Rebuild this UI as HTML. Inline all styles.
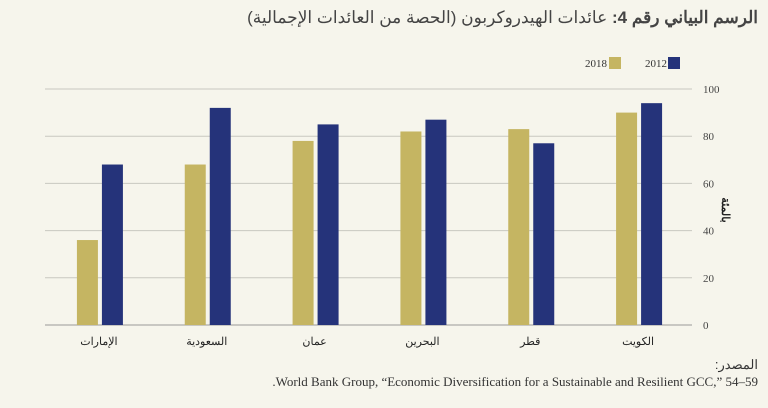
<!DOCTYPE html>
<html lang="ar"><head><meta charset="utf-8">
<style>
body{margin:0;width:768px;height:408px;background:#f6f5ec;overflow:hidden;font-family:"Liberation Serif","Noto Sans CJK SC",serif;}
.t{position:absolute;white-space:nowrap;color:#333;}
</style></head>
<body>
<div class="t" dir="rtl" style="right:10px;top:8px;font-size:17px;font-family:'Liberation Sans','Noto Sans CJK SC',sans-serif;color:#444;"><b>الرسم البياني رقم 4:</b> عائدات الهيدروكربون (الحصة من العائدات الإجمالية)</div>
<svg width="768" height="408" style="position:absolute;left:0;top:0" id="chart"></svg>
<div class="t" dir="rtl" style="right:10px;top:357px;font-size:13px;font-family:'Liberation Sans','Noto Sans CJK SC',sans-serif;">المصدر:</div>
<div class="t" style="right:10px;top:374px;font-size:13px;">.World Bank Group, “Economic Diversification for a Sustainable and Resilient GCC,” 54–59</div>
<script>
const categories=["الإمارات","السعودية","عمان","البحرين","قطر","الكويت"];
const values2018=[36,68,78,82,83,90];
const values2012=[68,92,85,87,77,94];
const ticks=[0,20,40,60,80,100];
const svg=document.getElementById('chart');
const NS='http://www.w3.org/2000/svg';
const x0=45,x1=692,yBase=325,yTop=89;
const y=v=>yBase-(v/100)*(yBase-yTop);
const step=(x1-x0)/categories.length;
function mk(tag,attrs){const e=document.createElementNS(NS,tag);for(const k in attrs)e.setAttribute(k,attrs[k]);svg.appendChild(e);return e;}
ticks.forEach(t=>{
 const l=mk('line',{x1:x0,x2:x1,y1:y(t),y2:y(t),stroke:t===0?'#999':'#c8c8c0','stroke-width':1});
 
 
 const tx=mk('text',{x:703,y:y(t)+4,'font-size':11,fill:'#444','font-family':'Liberation Serif,serif'});
 tx.textContent=t;
 
 
});
categories.forEach((c,i)=>{
 const cx=x0+step*(i+0.5);
 const b1=mk('rect',{x:cx-22,y:y(values2018[i]),width:21,height:yBase-y(values2018[i]),fill:'#c5b562'});
 
 
 const b2=mk('rect',{x:cx+3,y:y(values2012[i]),width:21,height:yBase-y(values2012[i]),fill:'#25337a'});
 
 
 const tx=mk('text',{x:cx,y:345,'font-size':11,fill:'#222','text-anchor':'middle','font-family':'Liberation Sans,Noto Sans CJK SC,sans-serif'});
 tx.textContent=c;
 
 
});
const yt=mk('text',{x:0,y:0,'font-size':11,fill:'#222','text-anchor':'middle','font-weight':'bold','transform':'translate(722,210) rotate(90)','font-family':'Liberation Sans,Noto Sans CJK SC,sans-serif'});
yt.textContent='بالمئة';


const legend=[["2012",'#25337a',668,645],["2018",'#c5b562',609,585]];
legend.forEach(([lab,col,bx,tx])=>{
 const r=mk('rect',{x:bx,y:57,width:12,height:12,fill:col});
 
 
 const t=mk('text',{x:tx,y:67,'font-size':11,fill:'#333','font-family':'Liberation Serif,serif'});
 t.textContent=lab;
 
 
});
</script>
</body></html>
